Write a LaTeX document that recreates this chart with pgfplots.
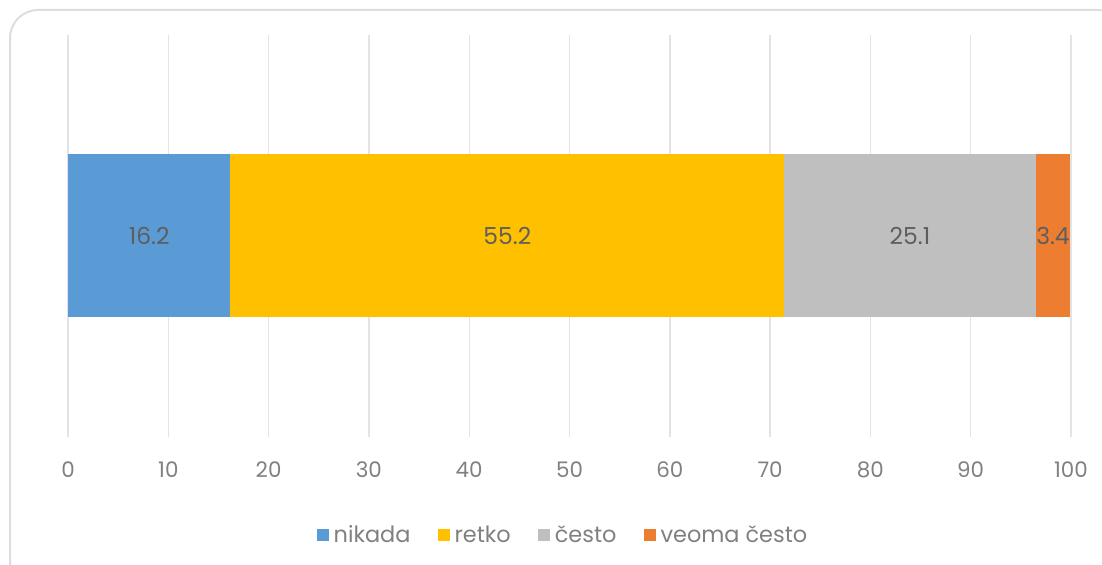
\documentclass[border=0pt]{standalone}
\usepackage{fontspec}
\setmainfont{Poppins}
\usepackage{pgfplots}
\pgfplotsset{compat=1.18}
\definecolor{cblue}{HTML}{5B9BD5}
\definecolor{cyellow}{HTML}{FFC000}
\definecolor{cgray}{HTML}{BFBFBF}
\definecolor{corange}{HTML}{ED7D31}
\definecolor{gridgray}{HTML}{E3E3E3}
\definecolor{framegray}{HTML}{DDDDDD}
\definecolor{tickgray}{HTML}{808080}
\definecolor{labelgray}{HTML}{5E5E5E}
\begin{document}
\begin{tikzpicture}[x=1bp,y=1bp]
\useasboundingbox (0,0) rectangle (1102,565);
\begin{scope}
\clip (0,0) rectangle (1102,565);
\draw[framegray, line width=2bp, rounded corners=28bp] (10,-40) rectangle (1125,555);
\end{scope}
\begin{axis}[at={(68bp,128bp)}, anchor=south west, scale only axis,
 width=1003bp, height=402bp, xbar stacked, bar width=163bp,
 xmin=0, xmax=100, ymin=0, ymax=2, ytick=\empty,
 xtick={0,10,...,100}, major tick length=0pt,
 axis line style={draw=none}, xmajorgrids,
 grid style={gridgray, line width=1.4bp},
 /pgf/number format/assume math mode=true,
 xticklabel={\pgfmathprintnumber{\tick}},
 xticklabel style={font=\fontsize{21.5}{24}\selectfont, text=tickgray, anchor=center, yshift=-33bp},
 nodes near coords, point meta=rawx,
 nodes near coords={\pgfmathprintnumber[fixed,fixed zerofill,precision=1]{\pgfplotspointmeta}},
 nodes near coords style={anchor=center, font=\fontsize{23.5}{26}\selectfont, text=labelgray},
 legend columns=4, legend cell align=left,
 legend style={at={(0.495,-0.244)}, anchor=center, draw=none, fill=none,
  font=\fontsize{22.5}{25}\selectfont, text=tickgray,
  nodes={inner xsep=5bp},
  /tikz/every even column/.append style={column sep=22bp}},
 legend image code/.code={\fill[#1] (0bp,-6bp) rectangle (12bp,6bp);}]
\addplot[fill=cblue, draw=none] coordinates {(16.2,1)};
\addplot[fill=cyellow, draw=none] coordinates {(55.2,1)};
\addplot[fill=cgray, draw=none] coordinates {(25.1,1)};
\addplot[fill=corange, draw=none] coordinates {(3.4,1)};
\legend{nikada, retko, često, veoma često}
\end{axis}
\end{tikzpicture}
\end{document}
